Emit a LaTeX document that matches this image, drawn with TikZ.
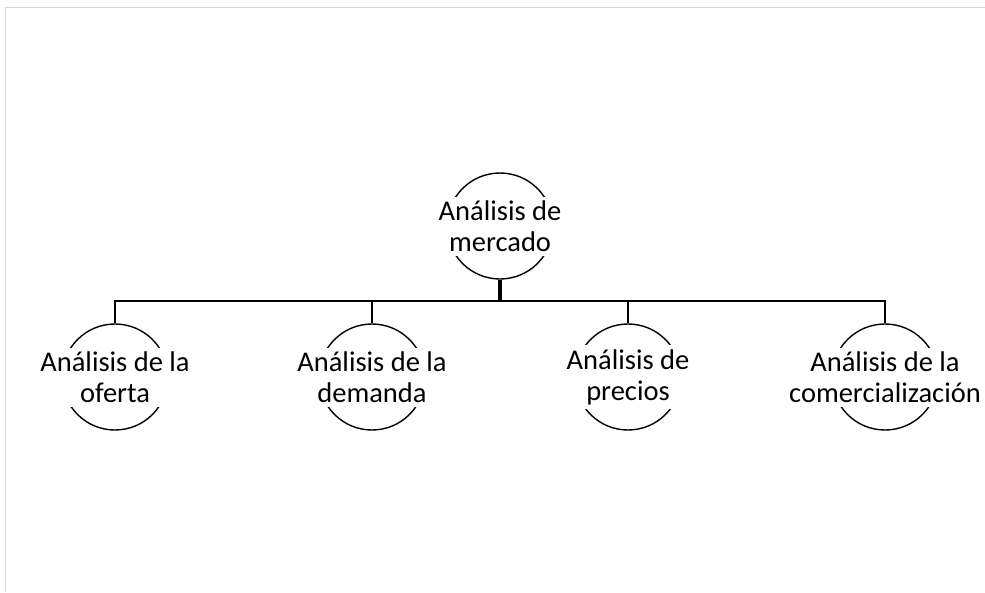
\documentclass[tikz,border=0pt]{standalone}
\usepackage{fontspec}
\setmainfont{Carlito}
\usepackage{tikz}
\usetikzlibrary{positioning}

\begin{document}
\begin{tikzpicture}[x=1pt, y=-1pt]
				% Styles
				\tikzstyle{ring} = [draw, line width=1.4pt, circle, minimum size=106pt, inner sep=0pt]
				\tikzstyle{label} = [fill=white, align=center, inner xsep=4pt, inner ysep=4pt, font=\fontsize{28.5}{31}\selectfont]
				\tikzstyle{branch} = [line width=1.6pt]

				% Frame
				\useasboundingbox (0,0) rectangle (985,592);
				\draw [black!15, line width=1pt] (5,592) -- (5,7) -- (985,7);

				% Nodes with absolute coordinates
				\node (mercado) [ring] at (500,226) {};
				\node (oferta) [ring] at (115,377) {};
				\node (demanda) [ring] at (372,377) {};
				\node (precios) [ring] at (628,377) {};
				\node (comercializacion) [ring] at (885,377) {};
				\coordinate (bar) at (500,301);

				% Texts over the rings
				\node (mercadoText) [label] at (mercado) {Análisis de\\mercado};
				\node (ofertaText) [label] at (oferta) {Análisis de la\\oferta};
				\node (demandaText) [label] at (demanda) {Análisis de la\\demanda};
				\node (preciosText) [label] at (precios) {Análisis de\\precios};
				\node (comercializacionText) [label] at (comercializacion) {Análisis de la\\comercialización};

				% Connections
				\draw [line width=3.2pt] (mercado.south) -- (bar);
				\draw [branch] (bar) -| (oferta.north);
				\draw [branch] (bar) -| (demanda.north);
				\draw [branch] (bar) -| (precios.north);
				\draw [branch] (bar) -| (comercializacion.north);

			\end{tikzpicture}
\end{document}
